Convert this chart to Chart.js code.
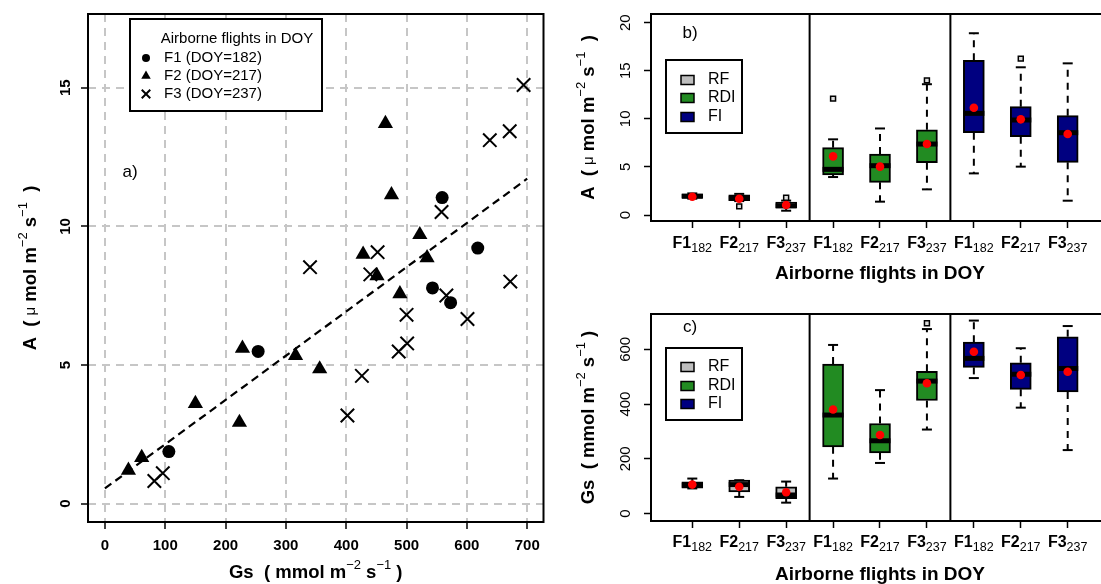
<!DOCTYPE html>
<html>
<head>
<meta charset="utf-8">
<script src="https://cdn.jsdelivr.net/npm/chart.js@4.4.1/dist/chart.umd.min.js"></script>
<style>
    html, body { margin: 0; padding: 0; background: #fff; overflow: hidden; width: 1101px; height: 584px; }
    canvas { position: absolute; }
    #scatter { left: 0; top: 0; }
    #boxA { left: 560px; top: 0; }
    #boxGs { left: 560px; top: 292px; }
</style>
</head>
<body>
<canvas id="scatter" width="555" height="584"></canvas>
<canvas id="boxA" width="560" height="292"></canvas>
<canvas id="boxGs" width="560" height="292"></canvas>
<script>
const FONT = "'Liberation Sans', Arial, Helvetica, sans-serif";

// --- Panel a: A vs Gs, one series per flight ---
const f1Gs = [106, 254, 559, 618, 543, 573];
const f1A = [1.88, 5.49, 11.04, 9.22, 7.78, 7.25];
const f2Gs = [39, 61, 150, 223, 228, 316, 356, 489, 465, 475, 522, 428, 534, 451];
const f2A = [1.20, 1.66, 3.61, 2.93, 5.60, 5.34, 4.86, 7.57, 13.71, 11.14, 9.70, 8.99, 8.87, 8.22];
const f3Gs = [82, 96, 402, 426, 487, 501, 500, 601, 566, 340, 452, 440, 558, 672, 638, 671, 694];
const f3A = [0.82, 1.10, 3.18, 4.61, 5.49, 5.78, 6.81, 6.66, 7.51, 8.53, 9.07, 8.27, 10.52, 8.01, 13.11, 13.43, 15.10];
const fitGs = [0, 700];
const fitA = [0.55, 11.72];
const gsTicks = [0, 100, 200, 300, 400, 500, 600, 700];
const aTicksScatter = [0, 5, 10, 15];
const flightLabels = ['F1 (DOY=182)', 'F2 (DOY=217)', 'F3 (DOY=237)'];

// --- Panels b, c: boxplots per treatment x flight ---
const groupNames = ['RF', 'RDI', 'FI'];
const groupColors = ['#bebebe', '#228b22', '#000080'];
const flightNames = ['F1', 'F2', 'F3'];
const flightDoy = ['182', '217', '237'];
const boxPos = [1, 2, 3, 4, 5, 6, 7, 8, 9];
const boxGroup = [0, 0, 0, 1, 1, 1, 2, 2, 2];
const boxFlight = [0, 1, 2, 0, 1, 2, 0, 1, 2];
const groupBreaks = [3.5, 6.5];

// A (umol m-2 s-1)
const aLow = [1.7, 1.45, 0.45, 3.95, 1.39, 2.67, 4.33, 5.03, 1.49];
const aQ1 = [1.75, 1.5, 0.75, 4.16, 3.4, 5.44, 8.56, 8.15, 5.48];
const aMed = [1.95, 1.75, 0.95, 4.75, 5.13, 7.38, 10.57, 9.88, 8.56];
const aQ3 = [2.2, 2.1, 1.35, 7.0, 6.34, 8.87, 16.08, 11.27, 10.33];
const aHigh = [2.25, 2.2, 1.5, 7.87, 9.0, 13.6, 18.9, 15.36, 15.77];
const aMean = [1.9, 1.7, 1.05, 6.1, 5.03, 7.38, 11.16, 9.95, 8.42];
const aOutPos = [2, 3, 4, 6, 8];
const aOutVal = [0.9, 1.8, 12.1, 14.0, 16.26];
const aTicks = [0, 5, 10, 15, 20];

// Gs (mmol m-2 s-1)
const gLow = [92, 61, 40, 128, 185, 307, 495, 387, 232];
const gQ1 = [93, 79, 55, 244, 222, 413, 534, 454, 444];
const gMed = [104, 106, 68, 360, 266, 484, 567, 509, 530];
const gQ3 = [116, 122, 98, 546, 329, 520, 626, 551, 646];
const gHigh = [128, 122, 117, 616, 451, 674, 705, 604, 685];
const gMean = [106, 98, 78, 380, 287, 476, 591, 506, 518];
const gOutPos = [6];
const gOutVal = [695];
const gTicks = [0, 200, 400, 600];

// --- text helpers ---

function fontStr(size, bold) {
    return (bold ? 'bold ' : '') + size + 'px ' + FONT;
}

// parts: [text, size, bold, dy]
function drawRich(ctx, parts, cx, cy, rotate, align) {
    ctx.save();
    ctx.translate(cx, cy);
    if (rotate) ctx.rotate(-Math.PI / 2);
    let w = 0;
    parts.forEach(p => { ctx.font = fontStr(p[1], p[2]); w += ctx.measureText(p[0]).width; });
    let x = align === 'left' ? 0 : -w / 2;
    ctx.textAlign = 'left';
    ctx.textBaseline = 'middle';
    ctx.fillStyle = '#000';
    parts.forEach(p => {
        ctx.font = fontStr(p[1], p[2]);
        ctx.fillText(p[0], x, p[3] || 0);
        x += ctx.measureText(p[0]).width;
    });
    ctx.restore();
}

function strokeLine(ctx, x1, y1, x2, y2) {
    ctx.beginPath();
    ctx.moveTo(x1, y1);
    ctx.lineTo(x2, y2);
    ctx.stroke();
}

function pickTicks(values) {
    return scale => { scale.ticks = values.map(v => ({ value: v })); };
}

const pts = (xs, ys) => xs.map((x, i) => ({ x, y: ys[i] }));

const aTitle = [['A  ( ', 18.5, true], ['\u03bc', 15, false], [' mol m', 18.5, true], ['\u22122', 13, false, -8],
    [' s', 18.5, true], ['\u22121', 13, false, -8], ['  )', 18.5, true]];
const gsTitle = [['Gs  ( mmol m', 18.5, true], ['\u22122', 13, false, -8], [' s', 18.5, true],
    ['\u22121', 13, false, -8], [' )', 18.5, true]];

// --- Panel a ---

const scatterDecor = {
    id: 'scatterDecor',
    afterDraw(chart) {
        const { ctx, chartArea: ca, scales } = chart;
        ctx.save();
        ctx.strokeStyle = '#000';
        ctx.lineWidth = 2;
        ctx.strokeRect(ca.left, ca.top, ca.right - ca.left, ca.bottom - ca.top);

        gsTicks.forEach(v => {
            drawRich(ctx, [[String(v), 15, true]], scales.x.getPixelForValue(v), 546);
        });
        // rotated y tick labels
        aTicksScatter.forEach(v => {
            drawRich(ctx, [[String(v), 15, true]], 66, scales.y.getPixelForValue(v), true);
        });

        drawRich(ctx, aTitle, 31, (ca.top + ca.bottom) / 2, true);
        drawRich(ctx, gsTitle, (ca.left + ca.right) / 2, 573);

        drawRich(ctx, [['a)', 17, false]], 130, 172);

        // legend
        ctx.fillStyle = '#fff';
        ctx.fillRect(130, 19, 192, 92);
        ctx.lineWidth = 2;
        ctx.strokeRect(130, 19, 192, 92);
        drawRich(ctx, [['Airborne flights in DOY', 15, false]], 237, 39);
        const styles = [
            { pointStyle: 'circle', radius: 4, borderWidth: 0 },
            { pointStyle: 'triangle', radius: 5.5, borderWidth: 0 },
            { pointStyle: 'crossRot', radius: 6, borderWidth: 2 },
        ];
        styles.forEach((st, i) => {
            const y = 58 + i * 18;
            ctx.fillStyle = '#000';
            ctx.strokeStyle = '#000';
            ctx.lineWidth = st.borderWidth;
            Chart.helpers.drawPoint(ctx, { ...st, rotation: 0 }, 146, y);
            drawRich(ctx, [[flightLabels[i], 15, false]], 164, y, false, 'left');
        });
        ctx.restore();
    }
};

new Chart(document.getElementById('scatter'), {
    type: 'scatter',
    data: {
        datasets: [
            { label: flightLabels[0], data: pts(f1Gs, f1A), pointStyle: 'circle', pointRadius: 6.5,
              backgroundColor: '#000', borderColor: '#000', borderWidth: 0 },
            { label: flightLabels[1], data: pts(f2Gs, f2A), pointStyle: 'triangle', pointRadius: 8.8,
              backgroundColor: '#000', borderColor: '#000', borderWidth: 0 },
            { label: flightLabels[2], data: pts(f3Gs, f3A), pointStyle: 'crossRot', pointRadius: 9.5,
              backgroundColor: '#000', borderColor: '#000', borderWidth: 2 },
            { type: 'line', label: 'fit', data: pts(fitGs, fitA), borderColor: '#000', borderWidth: 2.2,
              borderDash: [8, 5], pointRadius: 0, fill: false },
        ],
    },
    options: {
        responsive: false,
        animation: false,
        devicePixelRatio: 1,
        events: [],
        layout: { padding: { left: 0, right: 7, top: 14, bottom: 0 } },
        plugins: { legend: { display: false }, tooltip: { enabled: false } },
        scales: {
            x: {
                type: 'linear', min: -28, max: 727,
                afterBuildTicks: pickTicks(gsTicks),
                afterFit: s => { s.height = 62; },
                grid: { color: '#c6c6c6', lineWidth: 2, tickColor: '#000', tickWidth: 1.5, tickLength: 7, tickBorderDash: [] },
                border: { display: false, dash: [8, 6] },
                ticks: { display: false },
            },
            y: {
                type: 'linear', min: -0.66, max: 17.66,
                afterBuildTicks: pickTicks(aTicksScatter),
                afterFit: s => { s.width = 88; },
                grid: { color: '#c6c6c6', lineWidth: 2, tickColor: '#000', tickWidth: 1.5, tickLength: 7, tickBorderDash: [] },
                border: { display: false, dash: [8, 6] },
                ticks: { display: false },
            },
        },
    },
    plugins: [scatterDecor],
});

// --- Panels b, c ---

function makeBoxChart(id, s) {
    const boxParts = {
        id: 'boxParts',
        afterDatasetDraw(chart, args) {
            if (args.index !== 2) return;
            const { ctx, scales: { x, y } } = chart;
            ctx.save();
            ctx.strokeStyle = '#000';
            boxPos.forEach((p, i) => {
                const px = x.getPixelForValue(p);
                const lo = y.getPixelForValue(s.low[i]);
                const q1 = y.getPixelForValue(s.q1[i]);
                const q3 = y.getPixelForValue(s.q3[i]);
                const hi = y.getPixelForValue(s.high[i]);
                ctx.lineWidth = 2;
                ctx.setLineDash([7, 6]);
                if (hi < q3 - 1) strokeLine(ctx, px, q3, px, hi);
                if (lo > q1 + 1) strokeLine(ctx, px, q1, px, lo);
                ctx.setLineDash([]);
                strokeLine(ctx, px - 5, hi, px + 5, hi);
                strokeLine(ctx, px - 5, lo, px + 5, lo);
                ctx.lineWidth = 5;
                const m = y.getPixelForValue(s.med[i]);
                strokeLine(ctx, px - 10.5, m, px + 10.5, m);
            });
            ctx.restore();
        },
        afterDraw(chart) {
            const { ctx, chartArea: ca, scales: { x, y } } = chart;
            ctx.save();
            ctx.strokeStyle = '#000';
            ctx.lineWidth = 2;
            ctx.strokeRect(ca.left, ca.top, ca.right - ca.left, ca.bottom - ca.top);
            groupBreaks.forEach(b => {
                const px = x.getPixelForValue(b);
                strokeLine(ctx, px, ca.top, px, ca.bottom);
            });

            s.ticks.forEach(v => {
                drawRich(ctx, [[String(v), 15, false]], 65.5, y.getPixelForValue(v), true);
            });
            boxPos.forEach((p, i) => {
                const f = boxFlight[i];
                drawRich(ctx, [[flightNames[f], 16, true], [flightDoy[f], 12.5, false, 5]],
                    x.getPixelForValue(p), s.tickY);
            });
            drawRich(ctx, [['Airborne flights in DOY', 19, true]], (ca.left + ca.right) / 2, s.titleY);
            drawRich(ctx, s.yTitle, 29, (ca.top + ca.bottom) / 2, true);
            drawRich(ctx, [[s.tag, 17, false]], 130, s.tagY);

            // legend
            const L = s.legend;
            ctx.fillStyle = '#fff';
            ctx.fillRect(L.x, L.y, 76, L.h);
            ctx.lineWidth = 2;
            ctx.strokeRect(L.x, L.y, 76, L.h);
            groupNames.forEach((g, i) => {
                const ry = L.rows[i];
                ctx.fillStyle = groupColors[i];
                ctx.fillRect(L.x + 15, ry - 4.5, 13, 9);
                ctx.lineWidth = 1.5;
                ctx.strokeRect(L.x + 15, ry - 4.5, 13, 9);
                drawRich(ctx, [[g, 16, false]], L.x + 42, ry, false, 'left');
            });
            ctx.restore();
        },
    };

    return new Chart(document.getElementById(id), {
        type: 'bar',
        data: {
            datasets: [
                { type: 'scatter', label: 'mean', data: pts(boxPos, s.mean), pointStyle: 'circle', pointRadius: 4.3,
                  backgroundColor: '#ff0000', borderWidth: 0 },
                { type: 'scatter', label: 'outlier', data: pts(s.outPos, s.outVal), pointStyle: 'rect', pointRadius: 3.5,
                  backgroundColor: '#dddddd', borderColor: '#000', borderWidth: 1.5 },
                { type: 'bar', label: 'box', data: boxPos.map((p, i) => ({ x: p, y: [s.q1[i], s.q3[i]] })),
                  backgroundColor: boxGroup.map(g => groupColors[g]), borderColor: '#000', borderWidth: 2,
                  borderSkipped: false, barThickness: 21 },
            ],
        },
        options: {
            responsive: false,
            animation: false,
            devicePixelRatio: 1,
            events: [],
            layout: { padding: { left: 0, right: 11, top: s.padTop, bottom: 0 } },
            plugins: { legend: { display: false }, tooltip: { enabled: false } },
            scales: {
                x: {
                    type: 'linear', min: 0.12, max: 9.88, offset: false,
                    afterBuildTicks: pickTicks(boxPos),
                    afterFit: sc => { sc.height = s.axisH; },
                    grid: { offset: false, drawOnChartArea: false, tickColor: '#000', tickWidth: 1.5, tickLength: 7 },
                    border: { display: false },
                    ticks: { display: false },
                },
                y: {
                    type: 'linear', min: s.min, max: s.max,
                    afterBuildTicks: pickTicks(s.ticks),
                    afterFit: sc => { sc.width = 91; },
                    grid: { drawOnChartArea: false, tickColor: '#000', tickWidth: 1.5, tickLength: 7 },
                    border: { display: false },
                    ticks: { display: false },
                },
            },
        },
        plugins: [boxParts],
    });
}

makeBoxChart('boxA', {
    low: aLow, q1: aQ1, med: aMed, q3: aQ3, high: aHigh, mean: aMean,
    outPos: aOutPos, outVal: aOutVal, ticks: aTicks, min: -0.62, max: 20.9,
    padTop: 14, axisH: 71, tickY: 244, titleY: 274, tag: 'b)', tagY: 33,
    yTitle: aTitle,
    legend: { x: 106, y: 60, h: 73, rows: [80, 98, 117] },
});

makeBoxChart('boxGs', {
    low: gLow, q1: gQ1, med: gMed, q3: gQ3, high: gHigh, mean: gMean,
    outPos: gOutPos, outVal: gOutVal, ticks: gTicks, min: -27, max: 729,
    padTop: 22, axisH: 63, tickY: 251, titleY: 283, tag: 'c)', tagY: 35,
    yTitle: gsTitle,
    legend: { x: 106, y: 56, h: 72, rows: [75, 94, 112] },
});
</script>
</body>
</html>
